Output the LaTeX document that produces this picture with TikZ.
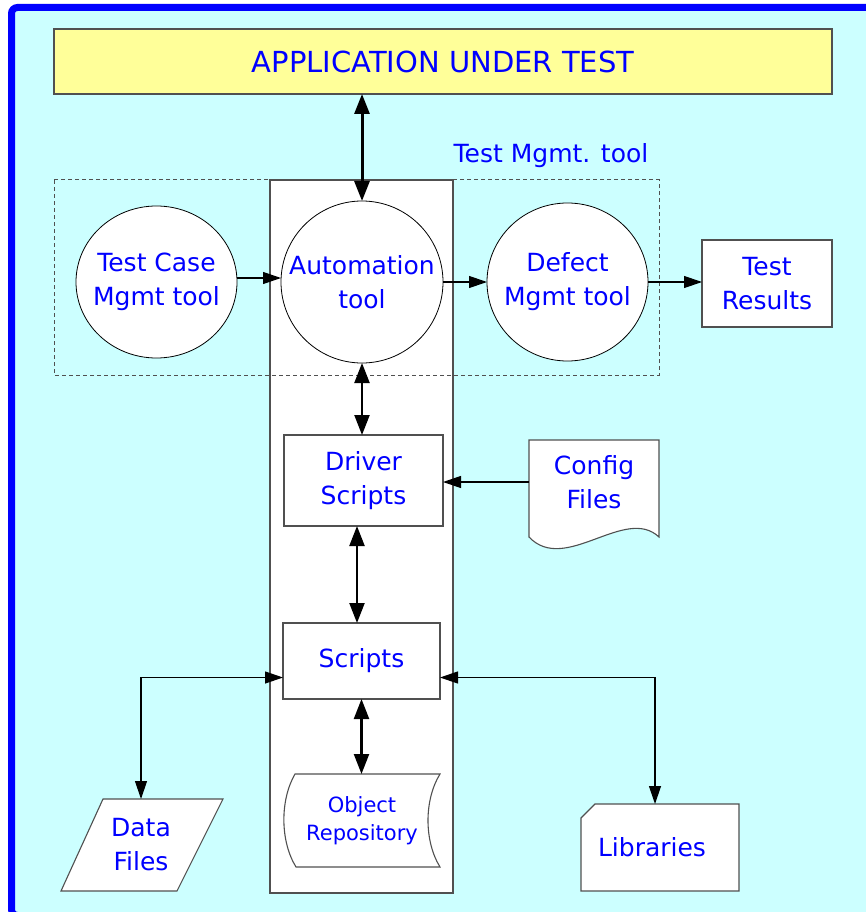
\documentclass[tikz,border=0pt]{standalone}
\usepackage{fontspec}
\setmainfont{DejaVu Sans}
\usetikzlibrary{arrows.meta,shapes.geometric}
\definecolor{framebl}{RGB}{0,0,255}
\definecolor{panel}{RGB}{204,255,255}
\definecolor{autfill}{RGB}{255,255,153}
\definecolor{txtbl}{RGB}{0,0,255}
\definecolor{edge}{RGB}{80,80,80}
\begin{document}
\begin{tikzpicture}[x=1pt,y=-1pt,
  captext/.style={text=txtbl, font=\fontsize{25}{34}\selectfont, align=center},
  box/.style={draw=edge, line width=1.1pt, fill=white, inner sep=0pt, outer sep=0pt, captext},
  bubble/.style={ellipse, draw=black, line width=0.8pt, fill=white, inner sep=0pt, outer sep=0pt},
  inner/.style={label={[captext, inner sep=0pt]center:#1}},
  area/.style={inner sep=0pt, outer sep=0pt, captext},
  outline/.style={draw=edge, line width=1.1pt, fill=white},
  thin arrow/.style={-{Triangle[length=18pt,width=12pt]}, line width=1.2pt, black},
  both thin/.style={{Triangle[length=18pt,width=12pt]}-{Triangle[length=18pt,width=12pt]}, line width=1.2pt, black},
  both thick/.style={{Triangle[length=20pt,width=15pt]}-{Triangle[length=20pt,width=15pt]}, line width=2.2pt, black},
]
\useasboundingbox (0,0) rectangle (866,912);

% outer panel
\draw[framebl, line width=7pt, fill=panel, rounded corners=6pt] (11.5,7.5) rectangle (890,915.5);

% application under test
\node[box, fill=autfill, minimum width=778pt, minimum height=65pt,
      font=\fontsize{29}{34}\selectfont] (aut) at (443,61.5) {APPLICATION UNDER TEST};

% central column and test management frame
\node[box, minimum width=183pt, minimum height=713pt] (column) at (361.5,536.5) {};
\draw[edge, dash pattern=on 4pt off 3pt, line width=1pt] (54,180) rectangle (659,375);
\draw[edge, line width=1.1pt] (column.north west) -- (column.north east);
\node[captext] (mgmtlabel) at (551,156) {Test Mgmt. tool};

% tools
\node[bubble, minimum width=161pt, minimum height=152pt, inner={Test Case\\Mgmt tool}] (tcm) at (156.5,282) {};
\node[bubble, minimum width=162pt, minimum height=162pt, inner={Automation\\tool}] (auto) at (362,282) {};
\node[bubble, minimum width=161pt, minimum height=158pt, inner={Defect\\Mgmt tool}] (defect) at (567.5,282) {};
\node[box, minimum width=130pt, minimum height=87pt] (results) at (767,283.5) {Test\\Results};

% scripts
\node[box, minimum width=159pt, minimum height=91pt] (driver) at (363.5,480.5) {Driver\\Scripts};
\node[box, minimum width=157pt, minimum height=76pt] (scripts) at (361.5,661) {Scripts};

% config files (document)
\draw[outline] (529,440) -- (659,440) -- (659,537)
  .. controls (625,505) and (565,575) .. (529,537) -- cycle;
\node[area, minimum width=130pt, minimum height=84pt] (config) at (594,482) {Config\\Files};

% object repository (stored data)
\draw[outline] (295,774) -- (440,774) .. controls (424,800) and (424,841) .. (440,867)
  -- (296,867) .. controls (280,841) and (280,800) .. (295,774) -- cycle;
\node[area, minimum width=155pt, minimum height=93pt,
      font=\fontsize{21}{28}\selectfont] (objrep) at (362,820.5) {Object\\Repository};

% data files (parallelogram)
\draw[outline] (103,799) -- (223,799) -- (177,891) -- (61,891) -- cycle;
\node[area, minimum width=162pt, minimum height=92pt] (data) at (141,845) {Data\\Files};

% libraries (card)
\draw[outline] (581,818) -- (595,804) -- (739,804) -- (739,891) -- (581,891) -- cycle;
\node[area, minimum width=142pt, minimum height=87pt] (lib) at (652,847.5) {Libraries};

% connectors
\draw[both thick, line width=3pt] (auto.north |- aut.south) -- (auto.north);
\draw[both thick] (auto.south) -- (auto.south |- driver.north);
\draw[both thick] ([xshift=-6.5pt]driver.south) -- ([xshift=-4.5pt]scripts.north);
\draw[both thick] (scripts.south) -- (scripts.south |- objrep.north);
\draw[thin arrow] ([yshift=4pt]tcm.east) -- ([yshift=4pt]auto.west);
\draw[thin arrow] (auto.east) -- (defect.west);
\draw[thin arrow] (defect.east) -- (defect.east -| results.west);
\draw[thin arrow] (config.west) -- (config.west -| driver.east);
\draw[both thin] ([yshift=-16.5pt]scripts.west) -| (data.north);
\draw[both thin] ([yshift=-16.5pt]scripts.east) -| ([xshift=3pt]lib.north);
\end{tikzpicture}
\end{document}
